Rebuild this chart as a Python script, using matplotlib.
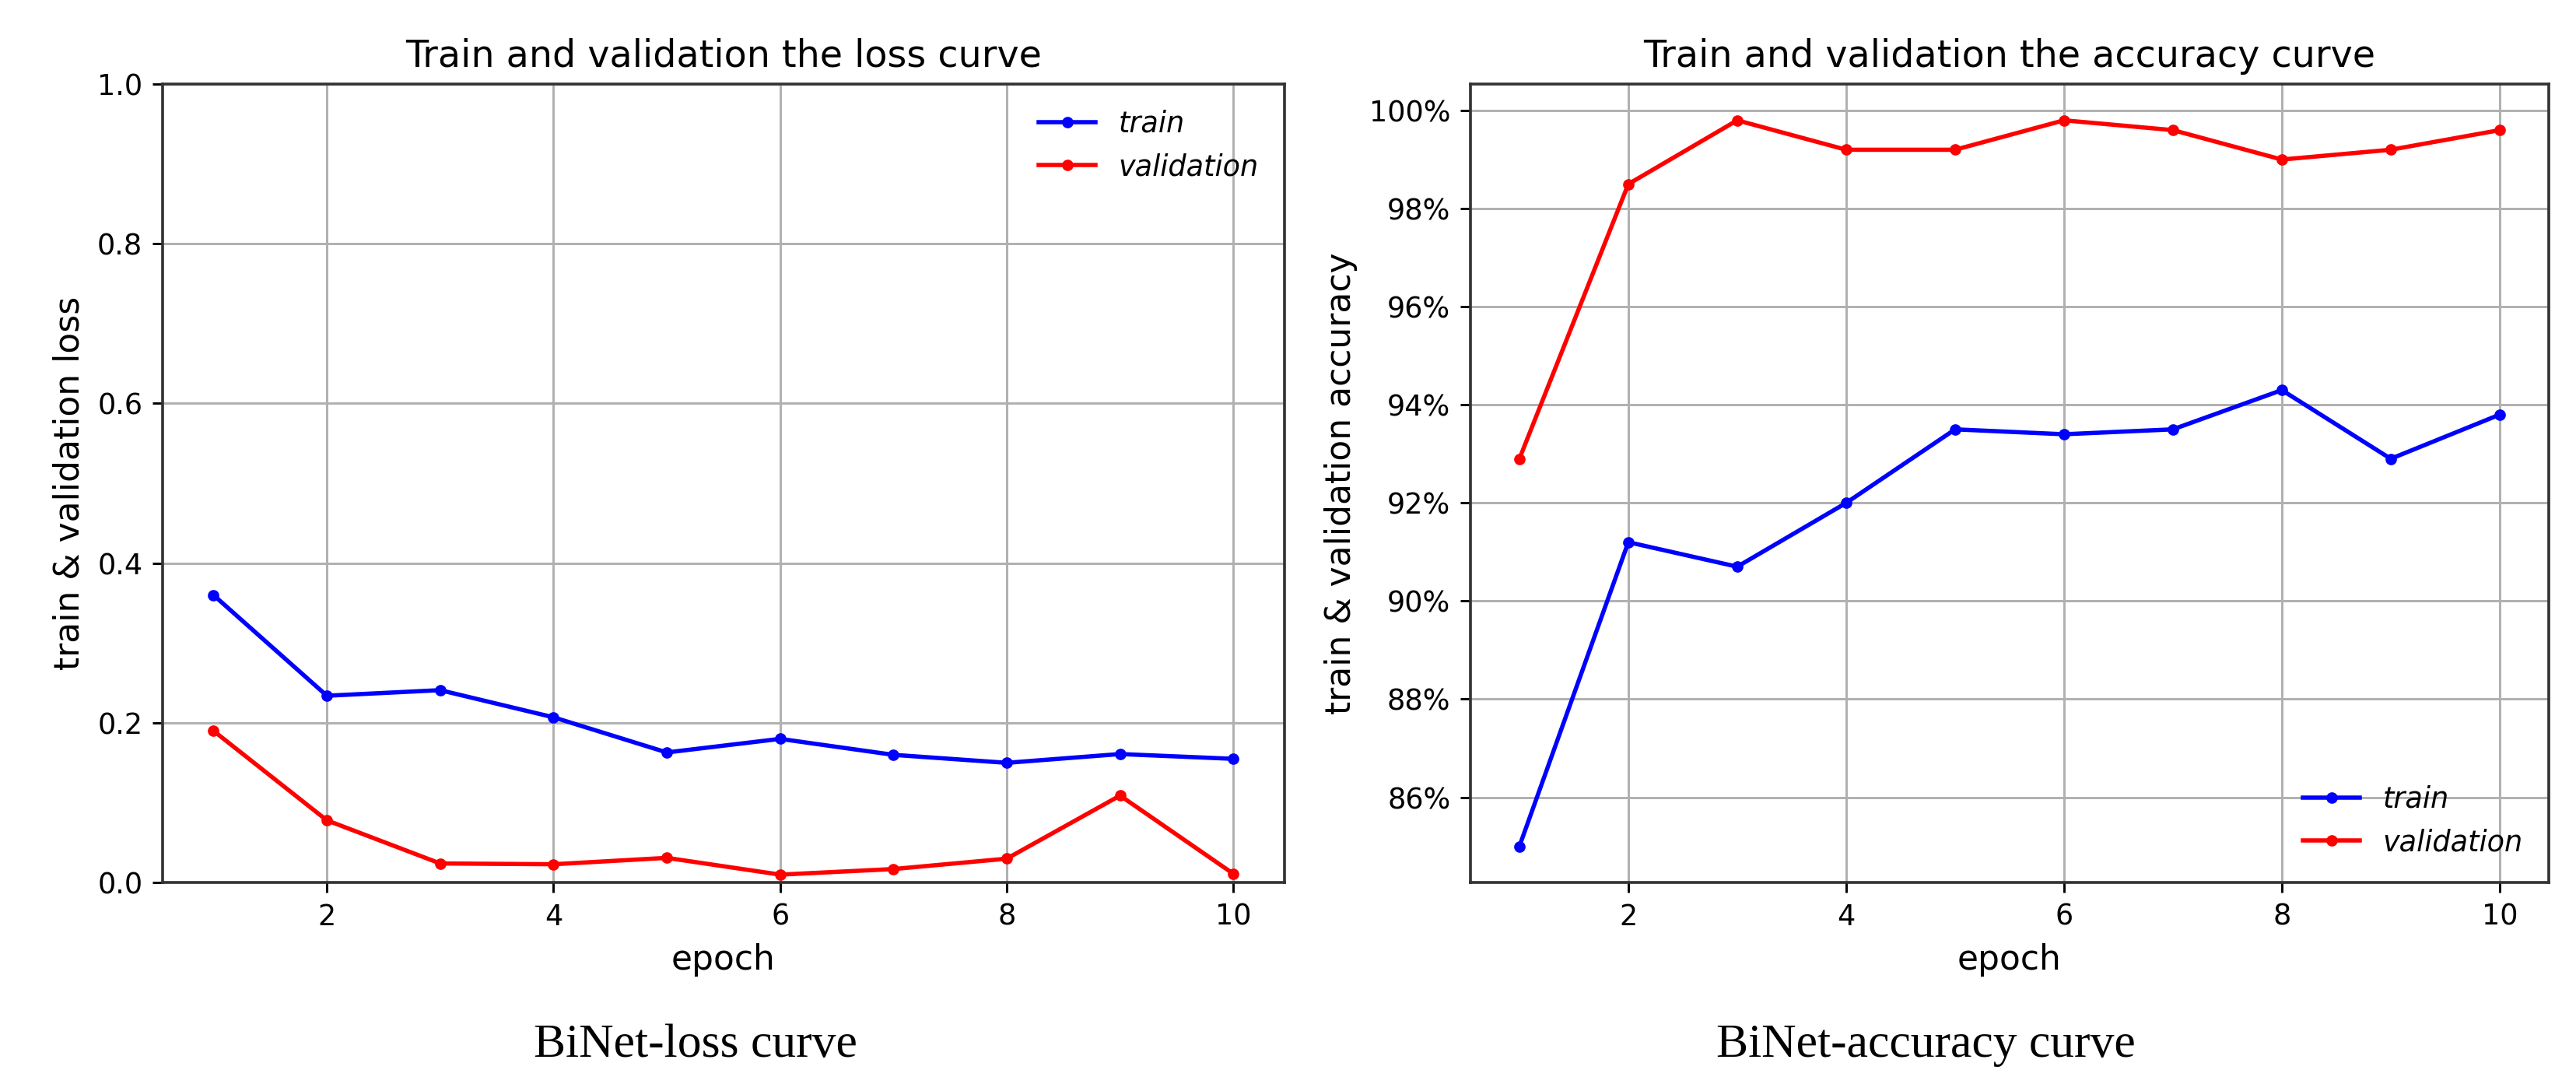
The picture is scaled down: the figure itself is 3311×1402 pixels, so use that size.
import numpy as np
import matplotlib
matplotlib.use("Agg")
import matplotlib.pyplot as plt
from matplotlib.ticker import PercentFormatter

# ---------------------------------------------------------------------------
# Data
# ---------------------------------------------------------------------------
epochs = [1, 2, 3, 4, 5, 6, 7, 8, 9, 10]

train_loss = [0.360, 0.234, 0.241, 0.207, 0.163, 0.180, 0.160, 0.150, 0.161, 0.155]
val_loss = [0.190, 0.078, 0.024, 0.023, 0.031, 0.010, 0.017, 0.030, 0.109, 0.011]

train_acc = [0.850, 0.912, 0.907, 0.920, 0.935, 0.934, 0.935, 0.943, 0.929, 0.938]
val_acc = [0.929, 0.985, 0.998, 0.992, 0.992, 0.998, 0.996, 0.990, 0.992, 0.996]

DPI = 264
fig = plt.figure(figsize=(3311 / DPI, 1402 / DPI), dpi=DPI)

ax1 = fig.add_axes([0.0631, 0.191, 0.4355, 0.732])
ax2 = fig.add_axes([0.5708, 0.191, 0.4186, 0.732])

# loss panel
ax1.plot(epochs, train_loss, ".-", color="blue", label="train")
ax1.plot(epochs, val_loss, ".-", color="red", label="validation")
ax1.set_ylim(0, 1.0)
ax1.set_title("Train and validation the loss curve", fontsize=13)
ax1.set_xlabel("epoch", fontsize=12)
ax1.set_ylabel("train & validation loss", fontsize=12)
ax1.grid(True)
ax1.legend(loc="upper right", frameon=False, prop={"style": "italic"})

# accuracy panel
ax2.plot(epochs, train_acc, ".-", color="blue", label="train")
ax2.plot(epochs, val_acc, ".-", color="red", label="validation")
ax2.yaxis.set_major_formatter(PercentFormatter(xmax=1, decimals=0))
ax2.set_title("Train and validation the accuracy curve", fontsize=13)
ax2.set_xlabel("epoch", fontsize=12)
ax2.set_ylabel("train & validation accuracy", fontsize=12)
ax2.grid(True)
ax2.legend(loc="lower right", frameon=False, prop={"style": "italic"})

for ax in (ax1, ax2):
    for sp in ax.spines.values():
        sp.set_color("#333333")
        sp.set_linewidth(1.0)

# captions under each panel
fig.text(0.270, 0.042, "BiNet-loss curve", family="Liberation Serif",
         fontsize=16.8, ha="center", va="center")
fig.text(0.7475, 0.042, "BiNet-accuracy curve", family="Liberation Serif",
         fontsize=16.8, ha="center", va="center")

fig.savefig("out.png", dpi=DPI)
